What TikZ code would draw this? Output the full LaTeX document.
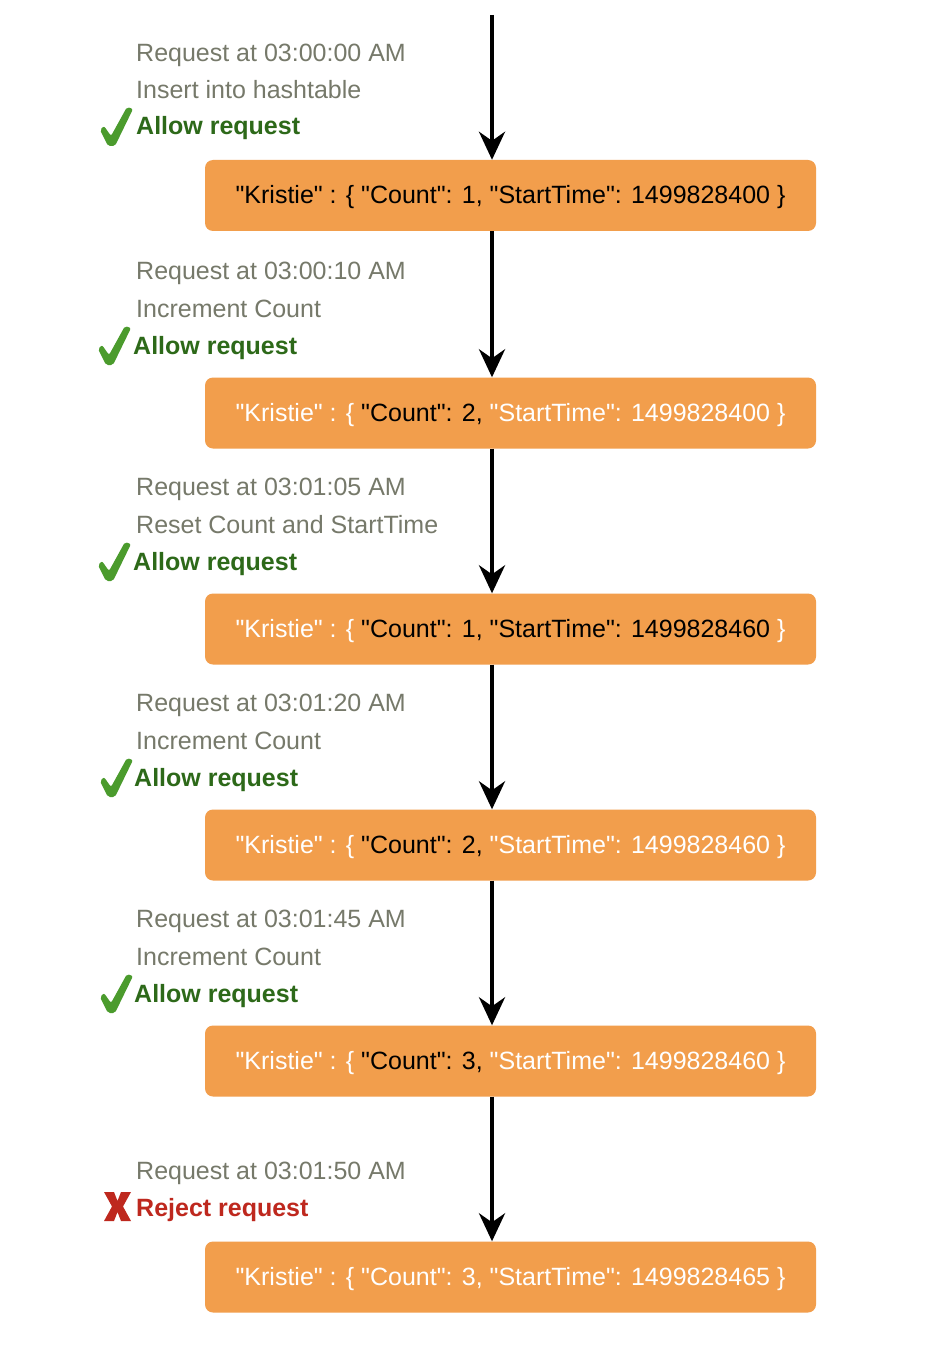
\documentclass[tikz,border=0pt]{standalone}
\usepackage{fontspec}
\setmainfont{Liberation Sans}[Ligatures=TeXOff]
\usetikzlibrary{arrows.meta}
\definecolor{boxfill}{RGB}{242,158,76}
\definecolor{graytxt}{RGB}{118,121,106}
\definecolor{okgreen}{RGB}{45,105,25}
\definecolor{chkgreen}{RGB}{75,155,45}
\definecolor{rejred}{RGB}{190,40,30}
\newcommand{\Wt}[1]{\textcolor{white}{#1}}
\tikzset{
  kvbox/.style={fill=boxfill, rounded corners=8pt, minimum width=611pt, minimum height=71pt, inner sep=0pt, text height=20pt, text depth=3pt, font=\fontsize{25}{30}\selectfont, text=black},
  info/.style={anchor=base west, inner sep=0pt, text=graytxt, font=\fontsize{25}{30}\selectfont},
  allow/.style={anchor=base west, inner sep=0pt, text=okgreen, font=\fontsize{25}{30}\selectfont\bfseries},
  reject/.style={anchor=base west, inner sep=0pt, text=rejred, font=\fontsize{25}{30}\selectfont\bfseries},
  flow/.style={line width=4pt, -{Stealth[length=28pt,width=26pt,inset=9pt]}},
  chk/.pic={\fill[chkgreen, rounded corners=2pt] (8,40) -- (0,24) -- (4,20) -- (11,30) -- (27,1) -- (33,3) -- (15,40) -- cycle;},
  xmark/.pic={\fill[rejred] (0,0) -- (10,0) -- (13.5,9) -- (17,0) -- (27,0) -- (19,14.5) -- (27,29) -- (17,29) -- (13.5,20) -- (10,29) -- (0,29) -- (8,14.5) -- cycle;}
}
\begin{document}
\begin{tikzpicture}[x=1pt,y=-1pt]
\useasboundingbox[fill=white] (0,0) rectangle (932,1348);

\coordinate (top) at (492,15);

\node[kvbox] (b1) at (510.5,195.5) {"Kristie" : \{ "Count": 1, "StartTime": 1499828400 \}};
\node[kvbox] (b2) at (510.5,413) {\Wt{"Kristie" : \{} "Count": 2, \Wt{"StartTime": 1499828400 \}}};
\node[kvbox] (b3) at (510.5,629) {\Wt{"Kristie" : \{} "Count": 1, "StartTime": 1499828460 \Wt{\}}};
\node[kvbox] (b4) at (510.5,845) {\Wt{"Kristie" : \{} "Count": 2, \Wt{"StartTime": 1499828460 \}}};
\node[kvbox] (b5) at (510.5,1061) {\Wt{"Kristie" : \{} "Count": 3, \Wt{"StartTime": 1499828460 \}}};
\node[kvbox, text=white] (b6) at (510.5,1277) {"Kristie" : \{ "Count": 3, "StartTime": 1499828465 \}};

\draw[flow] (top) -- (b1.north -| top);
\draw[flow] (b1.south -| top) -- (b2.north -| top);
\draw[flow] (b2.south -| top) -- (b3.north -| top);
\draw[flow] (b3.south -| top) -- (b4.north -| top);
\draw[flow] (b4.south -| top) -- (b5.north -| top);
\draw[flow] (b5.south -| top) -- (b6.north -| top);

% block 1
\node[info] (r1) at (136,62) {Request at 03:00:00 AM};
\node[info] (a1) at (136,99) {Insert into hashtable};
\node[allow] (s1) at (136,135) {Allow request};
\pic at (100,106) {chk};
% block 2
\node[info] (r2) at (136,279) {Request at 03:00:10 AM};
\node[info] (a2) at (136,317) {Increment Count};
\node[allow] (s2) at (133,354) {Allow request};
\pic at (98,325) {chk};
% block 3
\node[info] (r3) at (136,495) {Request at 03:01:05 AM};
\node[info] (a3) at (136,533) {Reset Count and StartTime};
\node[allow] (s3) at (133,570) {Allow request};
\pic at (98,541) {chk};
% block 4
\node[info] (r4) at (136,711) {Request at 03:01:20 AM};
\node[info] (a4) at (136,749) {Increment Count};
\node[allow] (s4) at (134,786) {Allow request};
\pic at (100,757) {chk};
% block 5
\node[info] (r5) at (136,927) {Request at 03:01:45 AM};
\node[info] (a5) at (136,965) {Increment Count};
\node[allow] (s5) at (134,1002) {Allow request};
\pic at (100,973) {chk};
% block 6
\node[info] (r6) at (136,1179) {Request at 03:01:50 AM};
\node[reject] (s6) at (136,1216) {Reject request};
\pic at (104,1192) {xmark};
\end{tikzpicture}
\end{document}
